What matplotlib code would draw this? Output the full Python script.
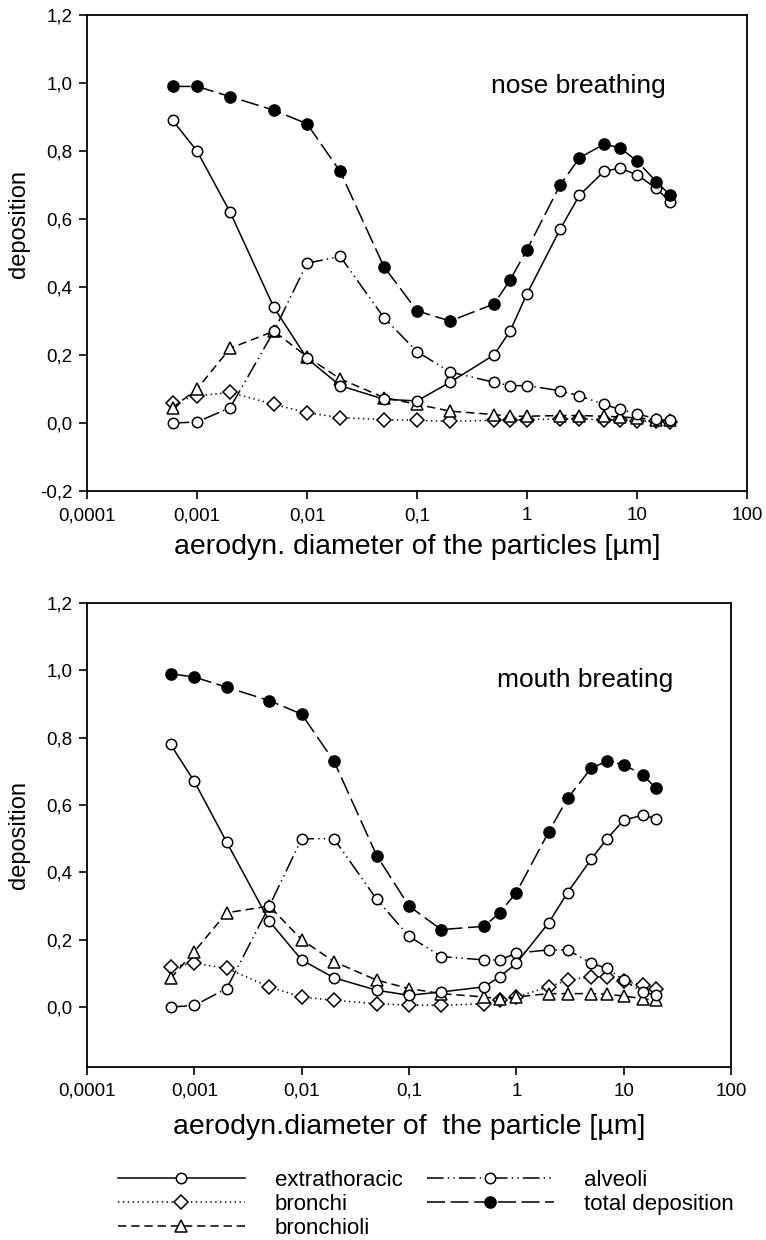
import matplotlib.pyplot as plt
from matplotlib.ticker import NullLocator

plt.rcParams['font.family'] = ['Liberation Sans', 'DejaVu Sans']
plt.rcParams['lines.scale_dashes'] = False

# particle diameters (um), same for every curve
diameter = [0.0006, 0.001, 0.002, 0.005, 0.01, 0.02, 0.05, 0.1, 0.2, 0.5,
            0.7, 1, 2, 3, 5, 7, 10, 15, 20]

# nose breathing
extra_nose = [0.89, 0.80, 0.62, 0.34, 0.19, 0.11, 0.07, 0.065, 0.12, 0.20,
              0.27, 0.38, 0.57, 0.67, 0.74, 0.75, 0.73, 0.69, 0.65]
bronchi_nose = [0.06, 0.08, 0.09, 0.055, 0.03, 0.016, 0.01, 0.008, 0.005, 0.008,
                0.008, 0.01, 0.012, 0.012, 0.01, 0.008, 0.006, 0.005, 0.004]
bronchioli_nose = [0.045, 0.10, 0.22, 0.27, 0.195, 0.13, 0.075, 0.055, 0.035, 0.025,
                   0.02, 0.02, 0.022, 0.022, 0.02, 0.018, 0.015, 0.01, 0.008]
alveoli_nose = [0.0, 0.003, 0.045, 0.27, 0.47, 0.49, 0.31, 0.21, 0.15, 0.12,
                0.11, 0.11, 0.095, 0.08, 0.055, 0.04, 0.027, 0.012, 0.008]
total_nose = [0.99, 0.99, 0.96, 0.92, 0.88, 0.74, 0.46, 0.33, 0.30, 0.35,
              0.42, 0.51, 0.70, 0.78, 0.82, 0.81, 0.77, 0.71, 0.67]

# mouth breathing
extra_mouth = [0.78, 0.67, 0.49, 0.255, 0.14, 0.087, 0.05, 0.035, 0.045, 0.06,
               0.09, 0.13, 0.25, 0.34, 0.44, 0.50, 0.555, 0.57, 0.56]
bronchi_mouth = [0.12, 0.13, 0.115, 0.06, 0.03, 0.02, 0.01, 0.006, 0.005, 0.01,
                 0.02, 0.03, 0.06, 0.08, 0.09, 0.09, 0.078, 0.065, 0.055]
bronchioli_mouth = [0.085, 0.165, 0.28, 0.30, 0.20, 0.135, 0.08, 0.055, 0.04, 0.03,
                    0.025, 0.03, 0.04, 0.04, 0.04, 0.038, 0.033, 0.025, 0.02]
alveoli_mouth = [0.0, 0.005, 0.055, 0.30, 0.50, 0.50, 0.32, 0.21, 0.15, 0.14,
                 0.14, 0.16, 0.17, 0.17, 0.13, 0.115, 0.08, 0.045, 0.035]
total_mouth = [0.99, 0.98, 0.95, 0.91, 0.87, 0.73, 0.45, 0.30, 0.23, 0.24,
               0.28, 0.34, 0.52, 0.62, 0.71, 0.73, 0.72, 0.69, 0.65]

labels = ["extrathoracic", "bronchi", "bronchioli", "alveoli", "total deposition"]

x_ticks = [0.0001, 0.001, 0.01, 0.1, 1, 10, 100]
x_tick_labels = ["0,0001", "0,001", "0,01", "0,1", "1", "10", "100"]
y_ticks = [-0.2, 0.0, 0.2, 0.4, 0.6, 0.8, 1.0, 1.2]
y_tick_labels = ["-0,2", "0,0", "0,2", "0,4", "0,6", "0,8", "1,0", "1,2"]

# line style per compartment
styles = [
    dict(ls="-", marker="o", mfc="white", ms=7.5, zorder=4),
    dict(ls=(0, (1, 2.5)), marker="D", mfc="white", ms=7, zorder=2),
    dict(ls=(0, (6, 3.5)), marker="^", mfc="white", ms=8, zorder=2),
    dict(ls=(0, (12, 3, 1, 3, 1, 3)), marker="o", mfc="white", ms=7.5, zorder=3),
    dict(ls=(0, (13, 4)), marker="o", mfc="black", ms=8, zorder=5),
]


def draw_panel(ax, curves, ymin, nticks_skip, xlabel, title, title_xy, xlabelpad):
    handles = []
    for y, st in zip(curves, styles):
        h, = ax.plot(diameter, y, color="black", lw=1.1, mec="black", mew=1.1, **st)
        handles.append(h)
    ax.set_xscale("log")
    ax.set_xlim(0.0001, 100)
    ax.set_ylim(ymin, 1.2)
    ax.set_xticks(x_ticks)
    ax.set_xticklabels(x_tick_labels)
    ax.xaxis.set_minor_locator(NullLocator())
    ax.set_yticks(y_ticks[nticks_skip:])
    ax.set_yticklabels(y_tick_labels[nticks_skip:])
    ax.tick_params(direction="out", length=5.5, width=1.2, labelsize=13.5)
    ax.tick_params(axis="x", pad=6)
    ax.tick_params(axis="y", pad=5)
    for sp in ax.spines.values():
        sp.set_linewidth(1.3)
    ax.set_xlabel(xlabel, fontsize=20.5, labelpad=xlabelpad)
    ax.set_ylabel("deposition", fontsize=17)
    ax.text(title_xy[0], title_xy[1], title, transform=ax.transAxes,
            fontsize=19, ha="center", va="center")
    return handles


fig = plt.figure(figsize=(7.66, 12.4), dpi=100)

ax_top = fig.add_axes([0.1136, 0.604, 0.8616, 0.3839])
draw_panel(ax_top, [extra_nose, bronchi_nose, bronchioli_nose, alveoli_nose, total_nose],
           -0.2, 0, "aerodyn. diameter of the particles [µm]", "nose breathing", (0.744, 0.851), 7)
ax_top.yaxis.set_label_coords(-0.086, 0.56)

ax_bot = fig.add_axes([0.1136, 0.1395, 0.8407, 0.3742])
handles = draw_panel(ax_bot, [extra_mouth, bronchi_mouth, bronchioli_mouth, alveoli_mouth, total_mouth],
                     -0.178, 1, "aerodyn.diameter of  the particle [µm]", "mouth breating", (0.773, 0.834), 10)
ax_bot.yaxis.set_label_coords(-0.088, 0.5)

fig.legend(handles, labels, loc="upper left", bbox_to_anchor=(0.154, 0.0565), ncol=2,
           frameon=False, fontsize=16, handlelength=5.7, handletextpad=1.35,
           columnspacing=1.1, labelspacing=0.14, borderpad=0, borderaxespad=0)

plt.savefig("out.png", dpi=100)
